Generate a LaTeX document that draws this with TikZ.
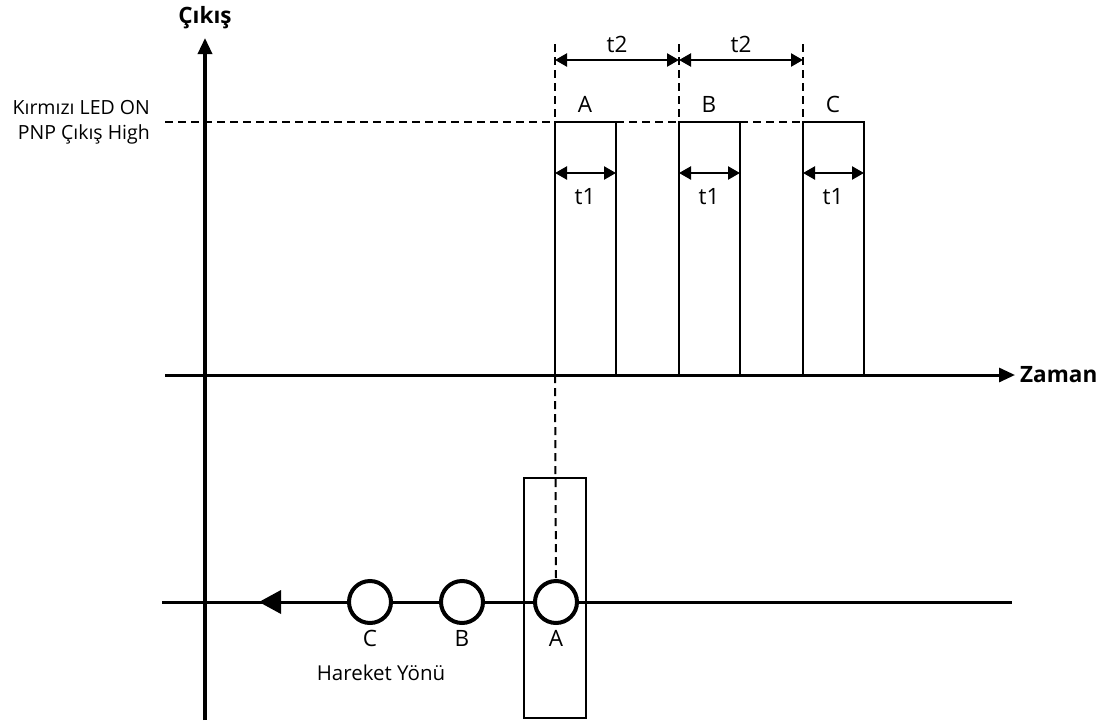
\documentclass[tikz,border=0pt]{standalone}
\usepackage{fontspec}
\setmainfont{Open Sans}
\usetikzlibrary{arrows.meta}
\begin{document}
\begin{tikzpicture}[x=1pt,y=-1pt,
  axis/.style={line width=3.4pt},
  pulse/.style={line width=2.3pt},
  dashln/.style={line width=2pt,dash pattern=on 8pt off 5pt},
  dimarrow/.style={line width=2.3pt,{Triangle[length=12pt,width=13pt]}-{Triangle[length=12pt,width=13pt]}},
  lbl/.style={font=\fontsize{20.5}{22}\selectfont,inner sep=0pt},
  letter/.style={font=\fontsize{22.5}{24}\selectfont,inner sep=0pt},
  blbl/.style={font=\fontsize{22.5}{24}\selectfont\bfseries,inner sep=0pt},
  ball/.style={circle,draw,line width=4pt,minimum size=42pt,inner sep=0pt,fill=white}]
\useasboundingbox (0,0) rectangle (1100,723);
% axes
\coordinate (ybot) at (205,720);
\coordinate (ytop) at (205,38);
\coordinate (xl) at (165,375);
\coordinate (xr) at (1015,375);
\draw[axis,-{Triangle[length=16pt,width=14pt]}] (ybot) -- (ytop);
\draw[axis,line width=3pt,-{Triangle[length=16pt,width=14pt]}] (xl) -- (xr);
\node[blbl,anchor=south] (cikis) at (205,29) {Çıkış};
\node[blbl,anchor=west] (zaman) at (1020,375) {Zaman};
% high level labels
\node[lbl,anchor=east,align=right,font=\fontsize{19.5}{25}\selectfont] (high) at (150,122) {Kırmızı LED ON\\PNP Çıkış High};
% pulse corners
\foreach \n/\a/\b in {A/555/616,B/679/740,C/803/864}{
  \coordinate (\n bl) at (\a,375);
  \coordinate (\n tl) at (\a,122);
  \coordinate (\n tr) at (\b,122);
  \coordinate (\n br) at (\b,375);
  \draw[pulse] (\n bl) -- (\n tl) -- (\n tr) -- (\n br);
  \node[letter] (lab\n) at ({\a+30},104) {\n};
  \coordinate (t1\n l) at (\a,173);
  \coordinate (t1\n r) at (\b,173);
  \draw[dimarrow] (t1\n l) -- (t1\n r);
  \node[letter] (t1lab\n) at ({\a+30},197) {t1};
}
% dashed level
\coordinate (hl) at (165,122);
\draw[dashln] (hl) -- (Atl);
\draw[dashln] (Atr) -- (Btl);
\draw[dashln] (Btr) -- (Ctl);
% dashed verticals
\coordinate (dA) at (555,44);
\coordinate (dB) at (679,44);
\coordinate (dC) at (803,44);
\draw[dashln] (dA) -- (Atl);
\draw[dashln] (dB) -- (Btl);
\draw[dashln] (dC) -- (Ctl);
% t2 arrows
\coordinate (t2a) at (555,60);
\coordinate (t2b) at (679,60);
\coordinate (t2c) at (803,60);
\draw[dimarrow] (t2a) -- (t2b);
\draw[dimarrow] (t2b) -- (t2c);
\node[letter] (t2lab1) at (617,44) {t2};
\node[letter] (t2lab2) at (741,44) {t2};
% bottom conveyor
\coordinate (cl) at (162,602);
\coordinate (cr) at (1012,602);
\draw[axis,line width=3pt] (cl) -- (cr);
\coordinate (arrtip) at (259,602);
\fill (arrtip) -- (281,590) -- (281,614) -- cycle;
% detector box
\draw[line width=1.6pt] (524,478) rectangle (586,718);
\node[ball] (ballA) at (556,602) {};
\node[ball] (ballB) at (462,602) {};
\node[ball] (ballC) at (370,602) {};
\draw[dashln] (Abl) -- (ballA.north);
\node[letter] (labbA) at (556,638) {A};
\node[letter] (labbB) at (462,638) {B};
\node[letter] (labbC) at (370,638) {C};
\node[lbl] (hareket) at (381,673) {Hareket Yönü};
\end{tikzpicture}
\end{document}
